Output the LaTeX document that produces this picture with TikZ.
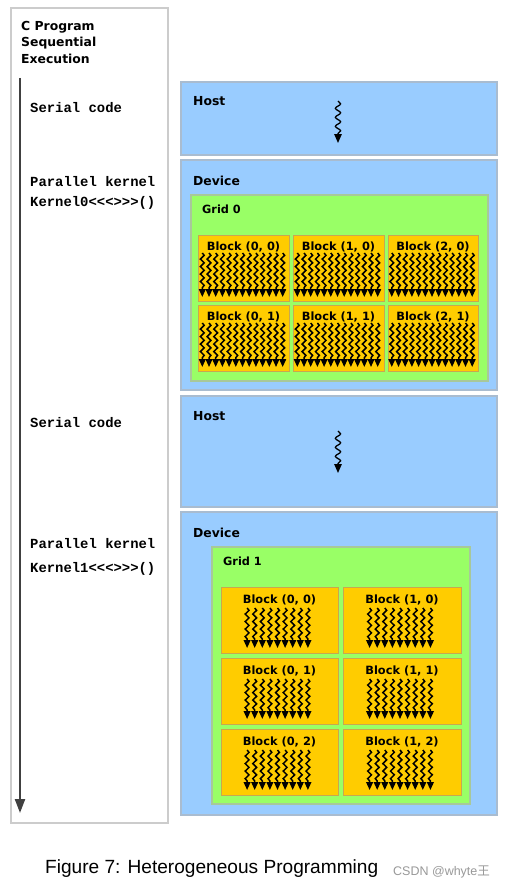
\documentclass[tikz,border=0pt]{standalone}
\usepackage{fontspec}
\setmainfont{DejaVu Sans}
\newfontfamily\codefont{Liberation Mono}
\newfontfamily\capfont{Liberation Sans}
\newfontfamily\cjkfont{Noto Sans CJK SC}
\usetikzlibrary{decorations.pathmorphing,arrows.meta}
\definecolor{hostblue}{HTML}{99CCFF}
\definecolor{hostedge}{HTML}{A9BCD0}
\definecolor{gridgreen}{HTML}{99FF66}
\definecolor{gridedge}{HTML}{A8C89A}
\definecolor{blockyellow}{HTML}{FFCC00}
\definecolor{blockedge}{HTML}{C8A850}
\definecolor{paneledge}{HTML}{CCCCCC}
\newcommand\mybox[6]{%
  \pgfmathsetmacro\bw{#5-#3}\pgfmathsetmacro\bh{#6-#4}%
  \node[#2, anchor=north west, minimum width=\bw pt, minimum height=\bh pt] (#1) at (#3,#4) {};}
% \threadrow{xcenter}{ytop}{ybottom}{n}{spacing}
\newcommand\threadrow[5]{%
  \foreach \ii in {1,...,#4}{%
    \pgfmathsetmacro\tx{#1+(\ii-(#4+1)/2)*#5}%
    \draw[thread] (\tx,#2) -- (\tx,#3);}}
\begin{document}
\begin{tikzpicture}[x=1pt,y=-1pt,
  panel/.style={draw=paneledge, line width=1.2pt, fill=white, inner sep=0, outer sep=0},
  hostbox/.style={draw=hostedge, fill=hostblue, line width=1.2pt, inner sep=0, outer sep=0},
  gridbox/.style={draw=gridedge, fill=gridgreen, line width=1.2pt, inner sep=0, outer sep=0},
  blockbox/.style={draw=blockedge, fill=blockyellow, line width=1pt, inner sep=0, outer sep=0},
  boxtitle/.style={font=\bfseries\fontsize{12.4}{14}\selectfont, anchor=base west, inner sep=0},
  gridtitle/.style={font=\bfseries\fontsize{11.3}{13}\selectfont, anchor=base west, inner sep=0},
  blocktitle/.style={font=\bfseries\fontsize{11.4}{13}\selectfont, anchor=base, inner sep=0},
  codetext/.style={font=\codefont\bfseries\fontsize{13.9}{16}\selectfont, anchor=base west, inner sep=0},
  thread/.style={line width=1.5pt, decorate,
    decoration={snake, segment length=7.5pt, amplitude=1.9pt, post length=6pt},
    -{Triangle[width=6.8pt,length=8pt]}},
  hostthread/.style={line width=1.3pt, decorate,
    decoration={snake, segment length=9pt, amplitude=2.6pt, post length=7pt},
    -{Triangle[width=7.5pt,length=9pt]}},
  timeline/.style={line width=2.2pt, draw=black!75, -{Triangle[width=10pt,length=14pt]}}
]
\useasboundingbox (0,0) rectangle (509,888);
\fill[white] (0,0) rectangle (509,888);

% left panel
\mybox{panel}{panel}{11}{8}{168}{823}
\node[boxtitle] (title1) at (21,31) {C Program};
\node[boxtitle] (title2) at (21,47) {Sequential};
\node[boxtitle] (title3) at (21,64) {Execution};
\coordinate (tstart) at (20,78);
\coordinate (tend) at (20,813);
\draw[timeline] (tstart) -- (tend);
\node[codetext] (ser1) at (30,113) {Serial code};
\node[codetext] (par1) at (30,186) {Parallel kernel};
\node[codetext] (ker0) at (30,206.5) {Kernel0<<<>>>()};
\node[codetext] (ser2) at (30,427) {Serial code};
\node[codetext] (par2) at (30,548) {Parallel kernel};
\node[codetext] (ker1) at (30,572) {Kernel1<<<>>>()};

% host 1
\mybox{host1}{hostbox}{181}{82}{497}{155}
\node[boxtitle] (host1t) at (193,106) {Host};
\coordinate (h1a) at (338,101);
\coordinate (h1b) at (338,143);
\draw[hostthread] (h1a) -- (h1b);

% device 1
\mybox{dev1}{hostbox}{181}{160}{497}{390}
\node[boxtitle] (dev1t) at (193,185) {Device};
\mybox{grid0}{gridbox}{191}{195}{488}{381}
\node[gridtitle] (grid0t) at (202,213) {Grid 0};
\foreach \xa/\xb [count=\c from 0] in {198/289, 293/384, 388/478}{
  \foreach \ya/\yb [count=\r from 0] in {235/301, 305/371}{
    \mybox{b0-\c-\r}{blockbox}{\xa}{\ya}{\xb}{\yb}
    \pgfmathsetmacro\mx{(\xa+\xb)/2}
    \node[blocktitle] (b0t-\c-\r) at (\mx,\ya+15) {Block (\c, \r)};
    \threadrow{\mx-1}{\ya+18}{\ya+62}{13}{6.7}
  }
}

% host 2
\mybox{host2}{hostbox}{181}{396}{497}{507}
\node[boxtitle] (host2t) at (193,420) {Host};
\coordinate (h2a) at (338,431);
\coordinate (h2b) at (338,473);
\draw[hostthread] (h2a) -- (h2b);

% device 2
\mybox{dev2}{hostbox}{181}{512}{497}{815}
\node[boxtitle] (dev2t) at (193,537) {Device};
\mybox{grid1}{gridbox}{212}{547}{470}{804}
\node[gridtitle] (grid1t) at (223,565) {Grid 1};
\foreach \xa/\xb [count=\c from 0] in {221/338, 343/461}{
  \foreach \ya/\yb [count=\r from 0] in {587/653, 658/724, 729/795}{
    \mybox{b1-\c-\r}{blockbox}{\xa}{\ya}{\xb}{\yb}
    \pgfmathsetmacro\mx{(\xa+\xb)/2}
    \node[blocktitle] (b1t-\c-\r) at (\mx,\ya+16) {Block (\c, \r)};
    \threadrow{\mx-2}{\ya+21}{\ya+61}{9}{7.6}
  }
}

% caption
\node[font=\capfont\fontsize{19.1}{22}\selectfont, anchor=base west, inner sep=0] (caption) at (45,873) {Figure 7: Heterogeneous Programming};
\node[font=\capfont\fontsize{12.5}{15}\selectfont, text=black!40, anchor=base west, inner sep=0] (wm) at (393,875) {CSDN @whyte{\cjkfont 王}};
\end{tikzpicture}
\end{document}
